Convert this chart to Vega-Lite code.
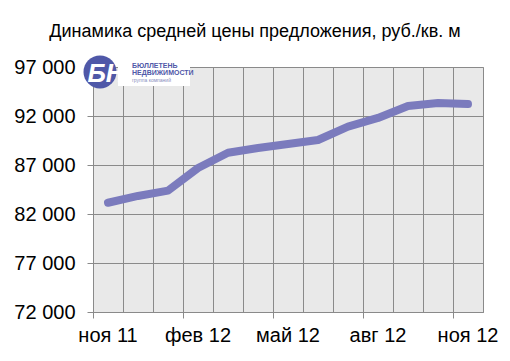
{
  "$schema": "https://vega.github.io/schema/vega-lite/v6.json",
  "width": 390,
  "height": 245,
  "autosize": {"type": "none"},
  "padding": {"left": 93, "top": 67, "right": 27, "bottom": 49},
  "background": "white",
  "config": {
    "font": "Liberation Sans",
    "view": {"fill": "#e9e9e9", "stroke": "#8a8a8a", "strokeWidth": 1}
  },
  "title": {
    "text": "Динамика средней цены предложения, руб./кв. м",
    "fontSize": 18,
    "fontWeight": "normal",
    "font": "Liberation Sans",
    "color": "black",
    "anchor": "middle",
    "dx": -33,
    "offset": 14
  },
  "layer": [
    {
      "data": {
        "values": [
          {"month": "ноя 11", "price": 83150},
          {"month": "дек 11", "price": 83840},
          {"month": "янв 12", "price": 84380},
          {"month": "фев 12", "price": 86690},
          {"month": "мар 12", "price": 88250},
          {"month": "апр 12", "price": 88730},
          {"month": "май 12", "price": 89140},
          {"month": "июн 12", "price": 89550},
          {"month": "июл 12", "price": 90910},
          {"month": "авг 12", "price": 91800},
          {"month": "сен 12", "price": 93020},
          {"month": "окт 12", "price": 93330},
          {"month": "ноя 12", "price": 93220}
        ]
      },
      "mark": {"type": "line", "color": "#7b7bbd", "strokeWidth": 8, "strokeCap": "round", "strokeJoin": "round"},
      "encoding": {
        "x": {
          "field": "month",
          "type": "ordinal",
          "sort": null,
          "scale": {"type": "band", "paddingInner": 0, "paddingOuter": 0},
          "axis": {
            "title": null,
            "bandPosition": 0,
            "grid": true,
            "gridColor": "#8a8a8a",
            "gridOpacity": 1,
            "domainColor": "#8a8a8a",
            "tickColor": {"condition": {"test": "indexof(['ноя 11','фев 12','май 12','авг 12','ноя 12'], datum.value) >= 0", "value": "#8a8a8a"}, "value": "transparent"},
            "tickSize": 6,
            "labelExpr": "indexof(['ноя 11','фев 12','май 12','авг 12','ноя 12'], datum.value) >= 0 ? datum.value : ''",
            "labelFontSize": 20,
            "labelColor": "black",
            "labelPadding": 7,
            "labelAngle": 0,
            "labelOverlap": false,
            "labelBound": false,
            "labelFlush": false
          }
        },
        "y": {
          "field": "price",
          "type": "quantitative",
          "scale": {"domain": [72000, 97000], "nice": false, "zero": false},
          "axis": {
            "title": null,
            "values": [72000, 77000, 82000, 87000, 92000, 97000],
            "grid": true,
            "gridColor": "#8a8a8a",
            "gridOpacity": 1,
            "tickSize": 6,
            "tickColor": "#8a8a8a",
            "domainColor": "#8a8a8a",
            "labelFontSize": 20,
            "labelColor": "black",
            "labelPadding": 12,
            "labelFlush": false,
            "labelOverlap": false,
            "labelExpr": "replace(format(datum.value, ','), ',', ' ')"
          }
        }
      }
    },
    {
      "data": {"values": [{"item": "logo"}]},
      "layer": [
        {
          "mark": {"type": "point", "shape": "M-1,-0.39L1,-0.39L1,0.39L-1,0.39Z", "filled": true, "color": "white", "opacity": 1, "size": 5184, "xOffset": 16},
          "encoding": {"x": {"datum": "дек 11"}, "y": {"datum": 96500}}
        },
        {
          "mark": {"type": "point", "shape": "circle", "filled": true, "color": "#4f58a8", "opacity": 1, "size": 1089, "xOffset": -8},
          "encoding": {"x": {"datum": "ноя 11"}, "y": {"datum": 96500}}
        },
        {
          "mark": {"type": "text", "text": "БН", "color": "white", "fontSize": 26, "fontWeight": "bold", "fontStyle": "italic", "font": "Liberation Sans", "align": "center", "baseline": "middle", "dx": -2, "dy": 2},
          "encoding": {"x": {"datum": "ноя 11"}, "y": {"datum": 96500}}
        },
        {
          "mark": {"type": "text", "text": "БЮЛЛЕТЕНЬ", "color": "#4f58a8", "fontSize": 7, "fontWeight": "bold", "font": "Liberation Sans", "align": "left", "baseline": "middle", "dx": 24, "dy": -6},
          "encoding": {"x": {"datum": "ноя 11"}, "y": {"datum": 96500}}
        },
        {
          "mark": {"type": "text", "text": "НЕДВИЖИМОСТИ", "color": "#4f58a8", "fontSize": 7, "fontWeight": "bold", "font": "Liberation Sans", "align": "left", "baseline": "middle", "dx": 24, "dy": 1},
          "encoding": {"x": {"datum": "ноя 11"}, "y": {"datum": 96500}}
        },
        {
          "mark": {"type": "text", "text": "группа компаний", "color": "#8a8fc0", "fontSize": 5, "font": "Liberation Sans", "align": "left", "baseline": "middle", "letterSpacing": 1, "dx": 24, "dy": 8},
          "encoding": {"x": {"datum": "ноя 11"}, "y": {"datum": 96500}}
        }
      ]
    }
  ]
}
